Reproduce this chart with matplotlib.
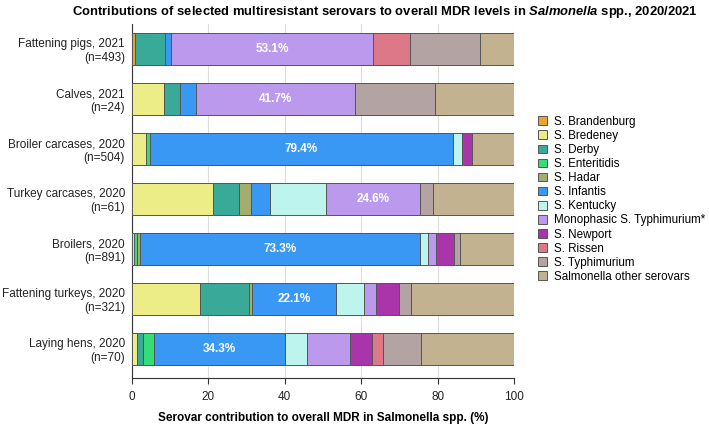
import matplotlib
matplotlib.use("Agg")
import matplotlib.pyplot as plt
import numpy as np

plt.rcParams['font.family'] = ['Liberation Sans', 'DejaVu Sans']
plt.rcParams['mathtext.fontset'] = 'custom'
plt.rcParams['mathtext.it'] = 'Liberation Sans:italic:bold'
plt.rcParams['mathtext.rm'] = 'Liberation Sans:bold'

categories = [
    "Fattening pigs, 2021\n(n=493)",
    "Calves, 2021\n(n=24)",
    "Broiler carcases, 2020\n(n=504)",
    "Turkey carcases, 2020\n(n=61)",
    "Broilers, 2020\n(n=891)",
    "Fattening turkeys, 2020\n(n=321)",
    "Laying hens, 2020\n(n=70)",
]

serovars = [
    "S. Brandenburg", "S. Bredeney", "S. Derby", "S. Enteritidis", "S. Hadar",
    "S. Infantis", "S. Kentucky", "Monophasic S. Typhimurium*", "S. Newport",
    "S. Rissen", "S. Typhimurium", "Salmonella other serovars",
]

# values per serovar, in category order
brandenburg = [0.9, 0, 0, 0, 0, 0, 0]
bredeney    = [0, 8.3, 3.6, 21.3, 0.6, 17.7, 1.4]
derby       = [7.7, 4.2, 0, 6.6, 0, 12.8, 1.4]
enteritidis = [0, 0, 1.0, 0, 0.8, 0, 2.9]
hadar       = [0, 0, 0, 3.3, 0.8, 0.9, 0]
infantis    = [1.5, 4.2, 79.4, 4.9, 73.3, 22.1, 34.3]
kentucky    = [0, 0, 2.5, 14.8, 2.0, 7.2, 5.7]
monophasic  = [53.1, 41.7, 0, 24.6, 2.2, 3.1, 11.4]
newport     = [0, 0, 2.4, 0, 4.7, 6.0, 5.7]
rissen      = [9.6, 0, 0, 0, 0, 0, 2.9]
typhimurium = [18.3, 20.8, 0, 3.3, 1.4, 3.3, 10.0]
other       = [8.9, 20.8, 11.1, 21.3, 14.2, 26.8, 24.3]

series = [brandenburg, bredeney, derby, enteritidis, hadar, infantis, kentucky,
          monophasic, newport, rissen, typhimurium, other]

colors = ["#F0A030", "#EDED88", "#3AAA98", "#35DD78", "#A3AE6E", "#3A98F5",
          "#BDF5EE", "#BB9AEE", "#AA35AA", "#DD7888", "#B3A3A3", "#C3B290"]

labelled = {(0, 7): "53.1%", (1, 7): "41.7%", (2, 5): "79.4%", (3, 7): "24.6%",
            (4, 5): "73.3%", (5, 5): "22.1%", (6, 5): "34.3%"}

fig = plt.figure(figsize=(7.09, 4.24), dpi=100)
ax = fig.add_axes([132/709, 1-378/424, (514-132)/709, (378-24)/424])

y = np.arange(len(categories))
left = np.zeros(len(categories))
handles = []
for si, (vals, col, name) in enumerate(zip(series, colors, serovars)):
    vals = np.array(vals, dtype=float)
    h = ax.barh(y, vals, left=left, height=0.65, color=col, edgecolor="#555555",
                linewidth=0.7, label=name, zorder=3)
    handles.append(h)
    for ci in range(len(categories)):
        if (ci, si) in labelled:
            ax.text(left[ci] + vals[ci] / 2, y[ci], labelled[(ci, si)],
                    ha="center", va="center", color="white", fontsize=8.5,
                    fontweight="bold", zorder=4)
    left += vals

ax.set_xlim(0, 100)
ax.set_ylim(6.58, -0.5)
ax.set_yticks(y)
ax.set_yticklabels(categories, fontsize=8.5, color="#222222")
ax.tick_params(axis="y", length=0, pad=5)
ax.set_xticks([0, 20, 40, 60, 80, 100])
ax.tick_params(axis="x", labelsize=8.5, length=4, pad=5, color="#333333",
               labelcolor="#222222")
ax.xaxis.grid(True, color="#DDDDDD", linewidth=0.8, zorder=0)
ax.set_axisbelow(True)
for s in ["top", "right"]:
    ax.spines[s].set_visible(False)
for s in ["left", "bottom"]:
    ax.spines[s].set_color("#333333")
    ax.spines[s].set_linewidth(0.8)

ax.set_xlabel("Serovar contribution to overall MDR in Salmonella spp. (%)",
              fontsize=8.5, fontweight="bold", labelpad=7)

fig.text(0.543, 0.99,
         r"Contributions of selected multiresistant serovars to overall MDR levels in $\mathit{Salmonella}$ spp., 2020/2021",
         ha="center", va="top", fontsize=9.4, fontweight="bold")

leg = fig.legend(handles=handles, labels=serovars, loc="center left",
                 bbox_to_anchor=(0.752, 0.53), frameon=False, fontsize=8.4,
                 handlelength=0.75, handleheight=0.75, handletextpad=0.6,
                 labelspacing=0.18, borderaxespad=0)

fig.savefig("out.png", dpi=100)
